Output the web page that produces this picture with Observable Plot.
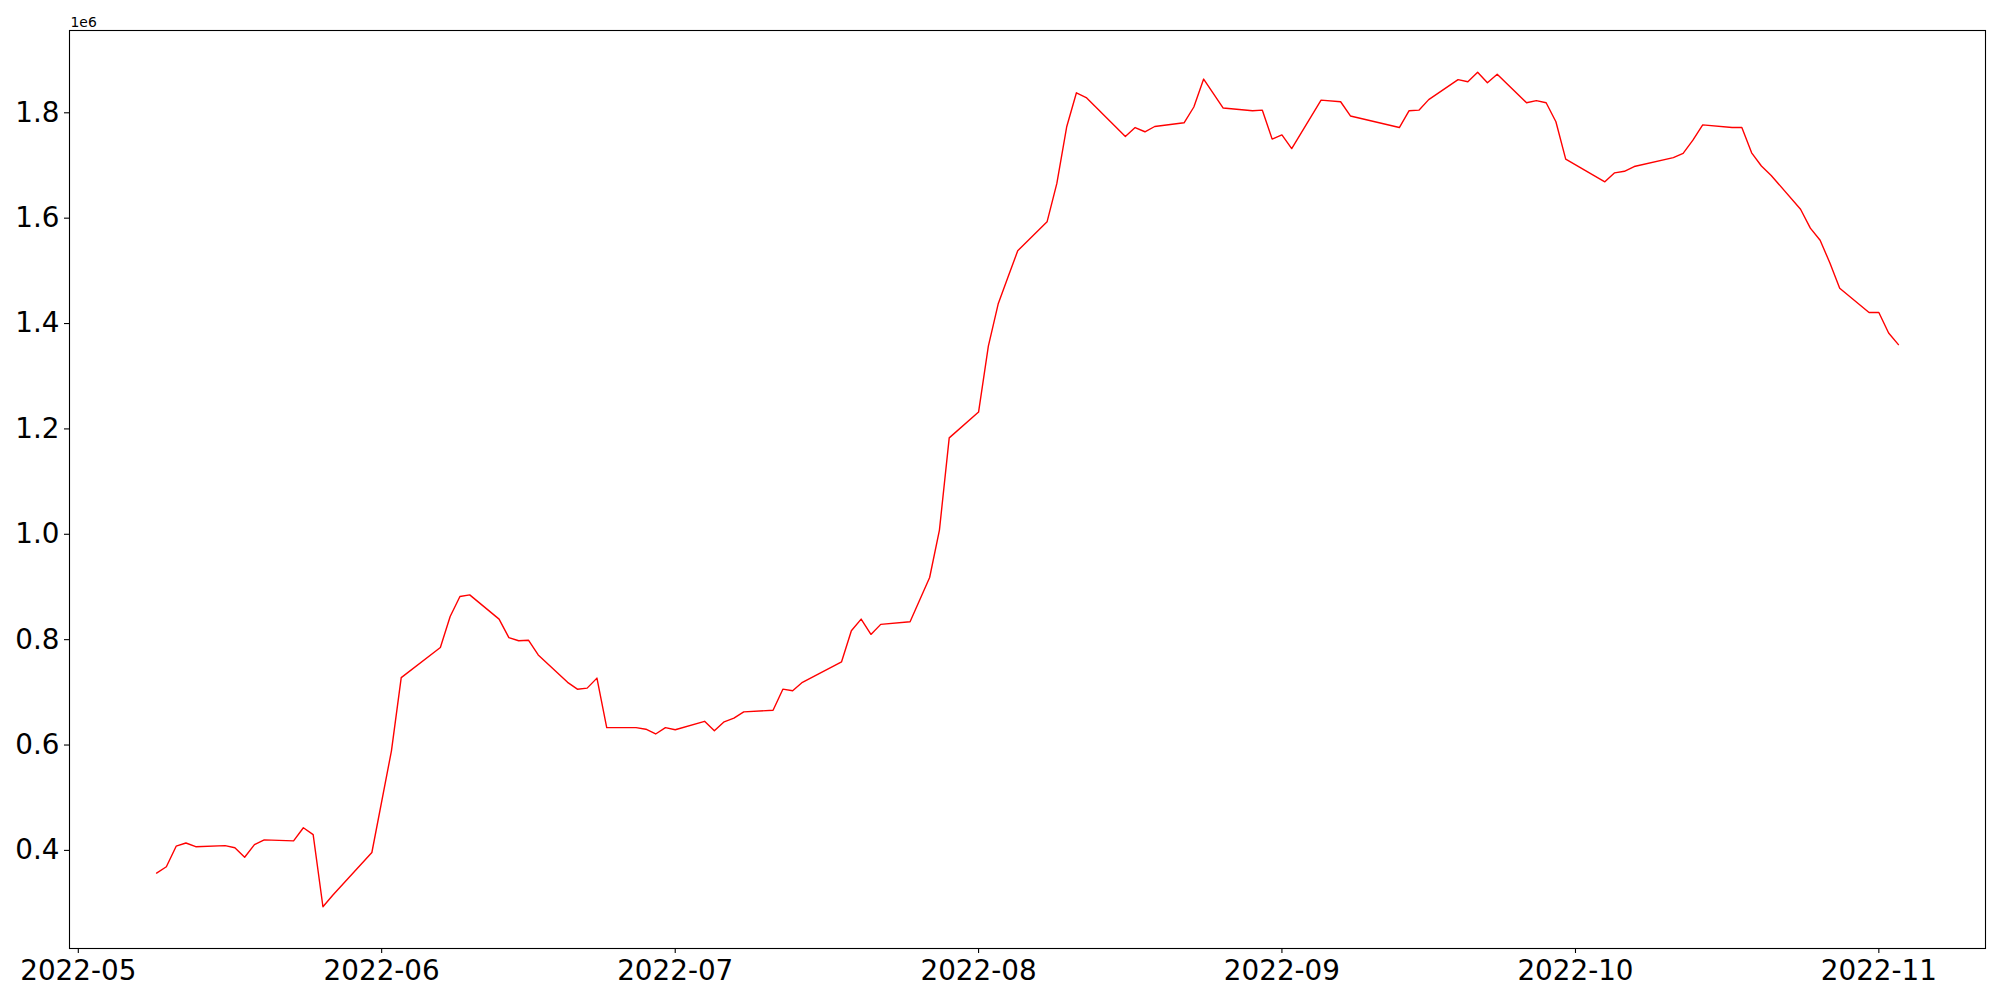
<!DOCTYPE html>
<html>
<head>
<meta charset="utf-8">
<script src="https://cdn.jsdelivr.net/npm/d3@7"></script>
<script src="https://cdn.jsdelivr.net/npm/@observablehq/plot@0.6"></script>
<style>
  html, body { margin: 0; padding: 0; background: #fff; overflow: hidden; }
  #chart { width: 2000px; height: 1000px; }
</style>
</head>
<body>
<div id="chart"></div>
<script>
const dates = [
  "2022-05-09","2022-05-10","2022-05-11","2022-05-12","2022-05-13","2022-05-16","2022-05-17","2022-05-18","2022-05-19","2022-05-20",
  "2022-05-23","2022-05-24","2022-05-25","2022-05-26","2022-05-27","2022-05-31","2022-06-02","2022-06-03","2022-06-07","2022-06-08",
  "2022-06-09","2022-06-10","2022-06-13","2022-06-14","2022-06-15","2022-06-16","2022-06-17","2022-06-20","2022-06-21","2022-06-22",
  "2022-06-23","2022-06-24","2022-06-27","2022-06-28","2022-06-29","2022-06-30","2022-07-01","2022-07-04","2022-07-05","2022-07-06",
  "2022-07-07","2022-07-08","2022-07-11","2022-07-12","2022-07-13","2022-07-14","2022-07-18","2022-07-19","2022-07-20","2022-07-21",
  "2022-07-22","2022-07-25","2022-07-27","2022-07-28","2022-07-29","2022-08-01","2022-08-02","2022-08-03","2022-08-04","2022-08-05",
  "2022-08-08","2022-08-09","2022-08-10","2022-08-11","2022-08-12","2022-08-16","2022-08-17","2022-08-18","2022-08-19","2022-08-22",
  "2022-08-23","2022-08-24","2022-08-26","2022-08-29","2022-08-30","2022-08-31","2022-09-01","2022-09-02","2022-09-05","2022-09-07",
  "2022-09-08","2022-09-13","2022-09-14","2022-09-15","2022-09-16","2022-09-19","2022-09-20","2022-09-21","2022-09-22","2022-09-23",
  "2022-09-26","2022-09-27","2022-09-28","2022-09-29","2022-09-30","2022-10-04","2022-10-05","2022-10-06","2022-10-07","2022-10-11",
  "2022-10-12","2022-10-13","2022-10-14","2022-10-17","2022-10-18","2022-10-19","2022-10-20","2022-10-21","2022-10-24","2022-10-25",
  "2022-10-26","2022-10-27","2022-10-28","2022-10-31","2022-11-01","2022-11-02","2022-11-03"
];
const values = [
  357000, 369000, 408000, 414000, 407000, 409000, 405000, 387000, 411000, 420000,
  418000, 443000, 430000, 293000, 315000, 396000, 589000, 728000, 785000, 844000,
  882000, 885000, 839000, 804000, 798000, 799000, 771000, 719000, 706000, 708000,
  727000, 633000, 633000, 630000, 621000, 633000, 629000, 645000, 627000, 644000,
  651000, 663000, 666000, 706000, 703000, 719000, 758000, 817000, 839000, 810000,
  829000, 834000, 918000, 1008000, 1183000, 1232000, 1357000, 1437000, 1488000, 1538000,
  1593000, 1666000, 1773000, 1838000, 1829000, 1755000, 1772000, 1764000, 1774000, 1781000,
  1811000, 1864000, 1809000, 1804000, 1805000, 1750000, 1758000, 1732000, 1824000, 1821000,
  1794000, 1772000, 1804000, 1805000, 1825000, 1863000, 1859000, 1877000, 1857000, 1873000,
  1819000, 1823000, 1819000, 1783000, 1712000, 1669000, 1686000, 1689000, 1698000, 1715000,
  1723000, 1748000, 1777000, 1772000, 1772000, 1724000, 1699000, 1681000, 1617000, 1581000,
  1558000, 1515000, 1467000, 1421000, 1421000, 1382000, 1360000
];
const yTicks = [400000, 600000, 800000, 1000000, 1200000, 1400000, 1600000, 1800000];
const xTicks = ["2022-05-01","2022-06-01","2022-07-01","2022-08-01","2022-09-01","2022-10-01","2022-11-01"];
const offsetLabel = "1e6";

const data = dates.map((d, i) => ({date: new Date(d + "T00:00:00Z"), value: values[i]}));

// matplotlib-like 5% margins
const [x0, x1] = d3.extent(data, d => +d.date);
const xPad = (x1 - x0) * 0.05;
const [y0, y1] = d3.extent(data, d => d.value);
const yPad = (y1 - y0) * 0.05;

const FONT = "DejaVu Sans";
const fmtX = d3.utcFormat("%Y-%m");

const chart = Plot.plot({
  width: 2000,
  height: 1000,
  marginLeft: 69,
  marginRight: 15,
  marginTop: 30,
  marginBottom: 52,
  style: {fontFamily: FONT, color: "black", background: "white", overflow: "visible"},
  x: {type: "utc", domain: [new Date(x0 - xPad), new Date(x1 + xPad)]},
  y: {domain: [y0 - yPad, y1 + yPad]},
  marks: [
    Plot.line(data, {x: "date", y: "value", stroke: "red", strokeWidth: 1.4}),
    Plot.frame({stroke: "black", strokeWidth: 1.1}),
    Plot.axisY(yTicks, {
      tickFormat: d => (d / 1e6).toFixed(1),
      fontSize: 27.8,
      tickSize: 5,
      tickPadding: 5,
      strokeWidth: 1.1,
      label: null
    }),
    Plot.axisX(xTicks.map(d => new Date(d + "T00:00:00Z")), {
      tickFormat: fmtX,
      fontSize: 27.8,
      tickSize: 5,
      tickPadding: 7,
      strokeWidth: 1.1,
      label: null
    }),
    Plot.text([offsetLabel], {
      frameAnchor: "top-left",
      text: d => d,
      textAnchor: "start",
      lineAnchor: "bottom",
      dy: -4,
      dx: 1,
      fontSize: 13.9,
      fill: "black"
    })
  ]
});

document.getElementById("chart").appendChild(chart);
</script>
</body>
</html>
